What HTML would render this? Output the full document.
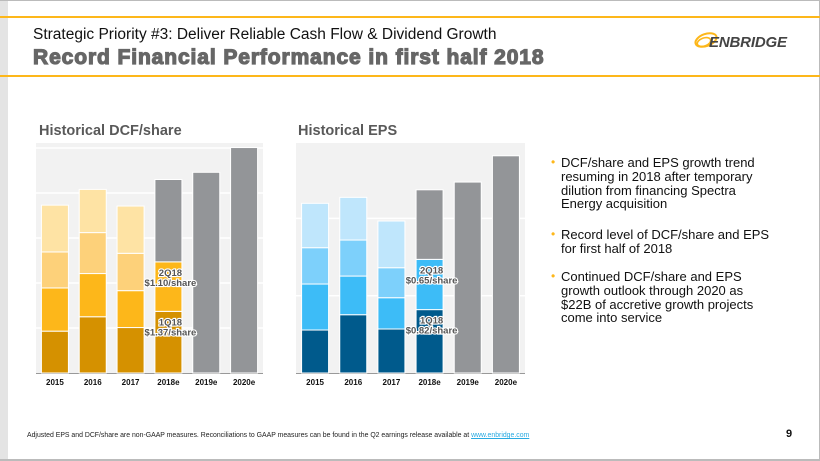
<!DOCTYPE html>
<html><head><meta charset="utf-8"><style>
body{margin:0;width:820px;height:461px;overflow:hidden;background:#fff;font-family:"Liberation Sans",Arial,sans-serif}
#root{position:relative;width:820px;height:461px}
.abs{position:absolute}
ul{margin:0;padding:0;list-style:none}
li{position:absolute;left:561px;width:210px;font-size:13px;line-height:13.8px;color:#111}
li:before{content:"•";position:absolute;left:-10px;color:#fdb71a;font-size:12px}
</style></head><body><div id="root">
<div class="abs" style="left:0;top:0;width:8px;height:461px;background:#e4e4e4"></div>
<div class="abs" style="left:0;top:0;width:820px;height:1px;background:#bbb"></div>
<div class="abs" style="left:819px;top:0;width:1px;height:461px;background:#bbb"></div>
<div class="abs" style="left:0;top:459px;width:820px;height:2px;background:#bbb"></div>
<div class="abs" style="left:0;top:16px;width:820px;height:2px;background:#fdb71a"></div>
<div class="abs" style="left:0;top:75px;width:820px;height:2px;background:#fdb71a"></div>
<div class="abs" style="left:33px;top:26px;font-size:15.5px;color:#111;white-space:nowrap">Strategic Priority #3: Deliver Reliable Cash Flow &amp; Dividend Growth</div>
<div class="abs" style="left:33px;top:46px;font-size:21px;font-weight:bold;color:#666;white-space:nowrap;-webkit-text-stroke:1.2px #666;letter-spacing:0.9px">Record Financial Performance in first half 2018</div>
<div class="abs" style="left:694px;top:28px">
<svg width="112" height="26"><ellipse cx="12" cy="12" rx="11" ry="6" fill="none" stroke="#fdb71a" stroke-width="2" transform="rotate(-20 12 12)"/><ellipse cx="10" cy="14" rx="7" ry="4" fill="none" stroke="#fdb71a" stroke-width="1.6" transform="rotate(-20 10 14)"/><text x="15" y="19" font-family="Liberation Sans" font-weight="bold" font-style="italic" font-size="15" fill="#444" textLength="78">ENBRIDGE</text></svg></div>
<svg class="abs" style="left:0;top:0" width="820" height="461" id="charts"></svg>
<ul>
<li style="top:156px">DCF/share and EPS growth trend resuming in 2018 after temporary dilution from financing Spectra Energy acquisition</li>
<li style="top:228px">Record level of DCF/share and EPS for first half of 2018</li>
<li style="top:270px">Continued DCF/share and EPS growth outlook through 2020 as $22B of accretive growth projects come into service</li>
</ul>
<div class="abs" style="left:27px;top:432px;font-size:6.9px;color:#222;white-space:nowrap">Adjusted EPS and DCF/share are non-GAAP measures. Reconciliations to GAAP measures can be found in the Q2 earnings release available at <span style="color:#29aae1;text-decoration:underline">www.enbridge.com</span></div>
<div class="abs" style="left:786px;top:428px;font-size:11px;font-weight:bold;color:#111">9</div>
</div>
<script>
const years=["2015","2016","2017","2018e","2019e","2020e"];
const dcfQ1=[0.93,1.25,1.01,1.37,0,0];
const dcfQ2=[0.96,0.96,0.82,1.10,0,0];
const dcfQ3=[0.80,0.91,0.83,0,0,0];
const dcfQ4=[1.04,0.96,1.05,0,0,0];
const dcfRest=[0,0,0,1.83,4.46,5.01];
const epsQ1=[0.556,0.754,0.569,0.82,0,0];
const epsQ2=[0.595,0.50,0.405,0.65,0,0];
const epsQ3=[0.47,0.466,0.388,0,0,0];
const epsQ4=[0.574,0.552,0.604,0,0,0];
const epsRest=[0,0,0,0.90,2.47,2.81];
const dcfLabels=["1Q18","$1.37/share","2Q18","$1.10/share"];
const epsLabels=["1Q18","$0.82/share","2Q18","$0.65/share"];
const NS="http://www.w3.org/2000/svg";
const svg=document.getElementById('charts');
function mk(t,a,p){const e=document.createElementNS(NS,t);for(const k in a)e.setAttribute(k,a[k]);(p||svg).appendChild(e);return e;}
function chart(cfg){
 const g=mk('g',{});
 
 
 const x0=cfg.x0,x1=cfg.x1,top=143,base=373,ppu=cfg.ppu;
 const y=v=>base-v*ppu;
 const step=(x1-x0)/years.length;
 const xc=i=>x0+step*(i+0.5);
 const bg=mk('rect',{x:x0,y:top,width:x1-x0,height:base-top,fill:'#f2f2f2'},g);
 
 
 for(let v=1;y(v)>=top;v++){const l=mk('line',{x1:x0,x2:x1,y1:y(v),y2:y(v),stroke:'#fff','stroke-width':1.5},g);
  
  }
 const ax=mk('line',{x1:x0,x2:x1,y1:base+0.5,y2:base+0.5,stroke:'#999','stroke-width':1},g);
 
 
 const series=[cfg.s[0],cfg.s[1],cfg.s[2],cfg.s[3],cfg.s[4]];
 const cols=cfg.cols;
 years.forEach((yr,i)=>{
  let acc=0;
  series.forEach((s,j)=>{
   const v=s[i]; if(!v)return;
   const r=mk('rect',{x:xc(i)-13.5,y:y(acc+v),width:27,height:v*ppu,fill:cols[j],stroke:'#fff','stroke-width':1},g);
   
   
   acc+=v;
  });
  const t=mk('text',{x:xc(i),y:base+12,'text-anchor':'middle','font-size':8,'font-weight':'bold',fill:'#111'},g);
  t.textContent=yr;
  
  
 });
 const lab=cfg.labels, i=3;
 const q1t=y(series[0][i]), q2t=y(series[0][i]+series[1][i]);
 [[lab[0],q1t+11],[lab[1],q1t+21],[lab[2],q2t+11],[lab[3],q2t+21]].forEach(([s,yy])=>{
  const t=mk('text',{x:xc(i)+2,y:yy+3,'text-anchor':'middle','font-size':9.5,'font-weight':'bold',fill:'#555',stroke:'#fff','stroke-width':2.2,'paint-order':'stroke'},g);
  t.textContent=s;
  
  
 });
 const tt=mk('text',{x:cfg.tx,y:135,'font-size':14.5,'font-weight':'bold',fill:'#595959'},g);
 tt.textContent=cfg.title;
 
 
}
chart({name:'dcf-chart',x0:36,x1:263,ppu:45,s:[dcfQ1,dcfQ2,dcfQ3,dcfQ4,dcfRest],cols:['#d59100','#fdb71a','#fdd17a','#fee3a4','#939598'],labels:dcfLabels,tx:39,title:'Historical DCF/share'});
chart({name:'eps-chart',x0:296,x1:525,ppu:77.3,s:[epsQ1,epsQ2,epsQ3,epsQ4,epsRest],cols:['#005a8c','#3dbcf7','#7dd0fb','#bfe6fc','#939598'],labels:epsLabels,tx:298,title:'Historical EPS'});
</script></body></html>
